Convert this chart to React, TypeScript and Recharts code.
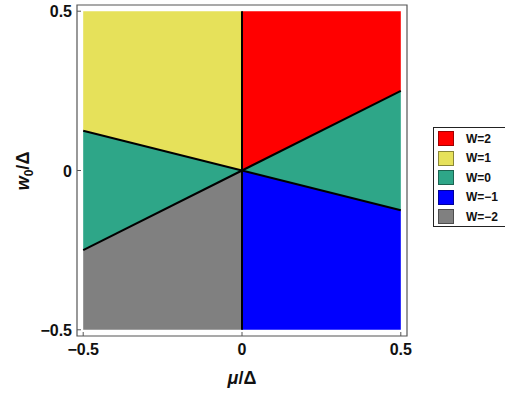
import React from "react";
import {
  ComposedChart,
  Area,
  Line,
  XAxis,
  YAxis,
  ReferenceLine,
  ReferenceArea,
  Label,
} from "recharts";

// mu/Delta sample points and where each phase boundary ray sits at them
const muValues = [-0.5, 0, 0.5];
const rayUpperRight = [null, 0, 0.25];
const rayLowerRight = [null, 0, -0.125];
const rayUpperLeft = [0.125, 0, null];
const rayLowerLeft = [-0.25, 0, null];
const topEdge = 0.5;
const bottomEdge = -0.5;

const axisTicks = [-0.5, 0, 0.5];
const legendLabels = ["W=2", "W=1", "W=0", "W=\u22121", "W=\u22122"];
const legendColors = ["#ff0000", "#e6e15a", "#2ea688", "#0000ff", "#808080"];
const legendBorders = ["#a00000", "#8a8636", "#1c6451", "#000099", "#4d4d4d"];

const pad = 0.0195;
const font = "'Liberation Sans', Arial, sans-serif";

const span = (lo: (number | null)[] | number, hi: (number | null)[] | number, i: number) => {
  const a = typeof lo === "number" ? lo : lo[i];
  const b = typeof hi === "number" ? hi : hi[i];
  if (a === null || b === null) return null;
  return [a, b];
};

const data = muValues.map((mu, i) => ({
  mu,
  red: span(rayUpperRight, topEdge, i),
  tealRight: span(rayLowerRight, rayUpperRight, i),
  blue: span(bottomEdge, rayLowerRight, i),
  yellow: span(rayUpperLeft, topEdge, i),
  tealLeft: span(rayLowerLeft, rayUpperLeft, i),
  gray: span(bottomEdge, rayLowerLeft, i),
  rayUR: rayUpperRight[i],
  rayLR: rayLowerRight[i],
  rayUL: rayUpperLeft[i],
  rayLL: rayLowerLeft[i],
}));

const fmt = (v: number) => (v === 0 ? "0" : v < 0 ? "\u2212" + Math.abs(v) : String(v));

function XTick(props: any) {
  const { x, y, payload } = props;
  return (
    <g>
      <line x1={x} x2={x} y1={y - 6} y2={y - 10} stroke="#555" />
      <text x={x} y={y + 13} textAnchor="middle" fontFamily={font} fontWeight="bold" fontSize={16} fill="#111">
        {fmt(payload.value)}
      </text>
    </g>
  );
}

function YTick(props: any) {
  const { x, y, payload } = props;
  return (
    <g>
      <line x1={x + 5} x2={x + 9} y1={y} y2={y} stroke="#555" />
      <text x={x} y={y + 6} textAnchor="end" fontFamily={font} fontWeight="bold" fontSize={16} fill="#111">
        {fmt(payload.value)}
      </text>
    </g>
  );
}

export default function App() {
  return (
    <div style={{ position: "absolute", left: 0, top: 0, width: 505, height: 394, background: "#fff", overflow: "hidden" }}>
      <ComposedChart width={505} height={394} data={data} margin={{ top: 5, right: 98, bottom: 18, left: 17 }}>
        <XAxis
          dataKey="mu"
          type="number"
          domain={[-0.5 - pad, 0.5 + pad]}
          ticks={axisTicks}
          allowDataOverflow
          tickSize={4}
          tickMargin={2}
          tickLine={false}
          axisLine={false}
          height={40}
          tick={<XTick />}
        >
          <Label
            content={(p: any) => {
              const vb = p.viewBox;
              return (
                <text x={vb.x + vb.width / 2} y={vb.y + 48} textAnchor="middle" fontFamily={font} fontWeight="bold" fontSize={18} fill="#111">
                  <tspan fontStyle="italic">μ</tspan>
                  <tspan>/Δ</tspan>
                </text>
              );
            }}
          />
        </XAxis>
        <YAxis
          type="number"
          domain={[-0.5 - pad, 0.5 + pad]}
          ticks={axisTicks}
          allowDataOverflow
          tickSize={4}
          tickMargin={1}
          tickLine={false}
          axisLine={false}
          width={60}
          tick={<YTick />}
        >
          <Label
            content={() => (
              <text
                x={0}
                y={0}
                transform="translate(29,171) rotate(-90)"
                textAnchor="middle"
                fontFamily={font}
                fontWeight="bold"
                fontSize={18}
                fill="#111"
              >
                <tspan fontStyle="italic">w</tspan>
                <tspan dy={4} fontSize={12}>0</tspan>
                <tspan dy={-4}>/Δ</tspan>
              </text>
            )}
          />
        </YAxis>
        <Area dataKey="red" type="linear" fill="#ff0000" fillOpacity={1} stroke="none" isAnimationActive={false} />
        <Area dataKey="tealRight" type="linear" fill="#2ea688" fillOpacity={1} stroke="none" isAnimationActive={false} />
        <Area dataKey="blue" type="linear" fill="#0000ff" fillOpacity={1} stroke="none" isAnimationActive={false} />
        <Area dataKey="yellow" type="linear" fill="#e6e15a" fillOpacity={1} stroke="none" isAnimationActive={false} />
        <Area dataKey="tealLeft" type="linear" fill="#2ea688" fillOpacity={1} stroke="none" isAnimationActive={false} />
        <Area dataKey="gray" type="linear" fill="#808080" fillOpacity={1} stroke="none" isAnimationActive={false} />
        <Line dataKey="rayUR" type="linear" stroke="#000" strokeWidth={2} dot={false} isAnimationActive={false} />
        <Line dataKey="rayLR" type="linear" stroke="#000" strokeWidth={2} dot={false} isAnimationActive={false} />
        <Line dataKey="rayUL" type="linear" stroke="#000" strokeWidth={2} dot={false} isAnimationActive={false} />
        <Line dataKey="rayLL" type="linear" stroke="#000" strokeWidth={2} dot={false} isAnimationActive={false} />
        <ReferenceLine
          segment={[
            { x: 0, y: bottomEdge },
            { x: 0, y: topEdge },
          ]}
          stroke="#000"
          strokeWidth={2}
        />
        <ReferenceArea
          x1={-0.5 - pad}
          x2={0.5 + pad}
          y1={-0.5 - pad}
          y2={0.5 + pad}
          fill="none"
          stroke="#555"
          strokeWidth={1.2}
        />
      </ComposedChart>
      <div
        style={{
          position: "absolute",
          left: 433,
          top: 127,
          width: 90,
          height: 100,
          border: "1px solid #222",
          boxSizing: "border-box",
          fontFamily: font,
          fontWeight: "bold",
          fontSize: 12,
          color: "#111",
        }}
      >
        {legendLabels.map((lbl, i) => (
          <div key={lbl} style={{ position: "absolute", left: 4, top: 3 + i * 19.6, height: 15, display: "flex", alignItems: "center" }}>
            <div
              style={{
                width: 16,
                height: 15,
                boxSizing: "border-box",
                background: legendColors[i],
                border: `1px solid ${legendBorders[i]}`,
              }}
            />
            <span style={{ marginLeft: 12 }}>{lbl}</span>
          </div>
        ))}
      </div>
    </div>
  );
}
